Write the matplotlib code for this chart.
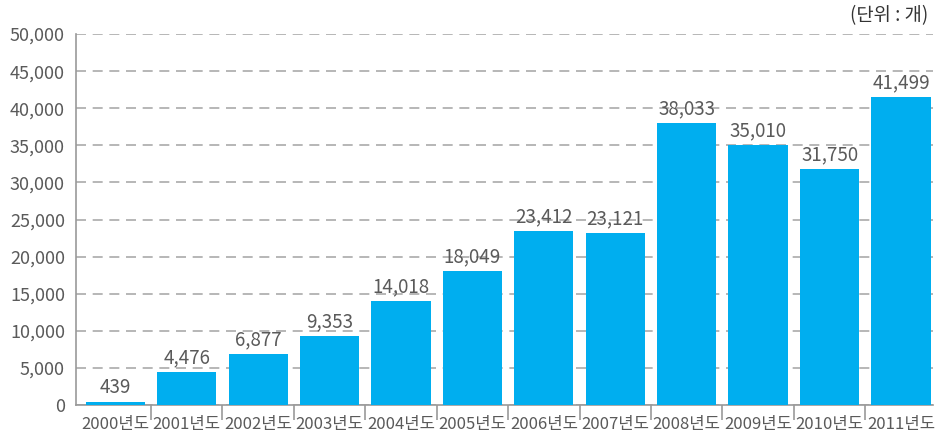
import matplotlib
matplotlib.use("Agg")
from matplotlib import pyplot as plt
from matplotlib.ticker import FixedLocator, FuncFormatter

plt.rcParams['font.family'] = ['Noto Sans CJK KR', 'DejaVu Sans']

years = ["2000년도", "2001년도", "2002년도", "2003년도", "2004년도", "2005년도",
         "2006년도", "2007년도", "2008년도", "2009년도", "2010년도", "2011년도"]
counts = [439, 4476, 6877, 9353, 14018, 18049, 23412, 23121, 38033, 35010, 31750, 41499]

gray = "#5a5a5a"
blue = "#00AEEF"

fig = plt.figure(figsize=(9.35, 4.42), dpi=100)
ax = fig.add_axes([0.0813, 0.0837, 0.9167, 0.8393])

x = list(range(len(years)))
ax.bar(x, counts, width=0.83, color=blue, zorder=3)

for xi, v in zip(x, counts):
    ax.text(xi, v + 500, f"{v:,}", ha="center", va="bottom", fontsize=13.5,
            color=gray, fontweight="light", zorder=4)

ax.set_xlim(-0.55, len(years) - 0.55)
ax.set_ylim(0, 50000)
ax.set_yticks(range(0, 50001, 5000))
ax.yaxis.set_major_formatter(FuncFormatter(lambda v, p: f"{int(v):,}"))
ax.tick_params(axis="y", length=0, pad=8, labelsize=13, labelcolor=gray)

# ticks between categories, labels at centers
ax.xaxis.set_major_locator(FixedLocator([i + 0.5 for i in x[:-1]]))
ax.xaxis.set_minor_locator(FixedLocator(x))
ax.set_xticklabels([], minor=False)
ax.set_xticklabels(years, minor=True)
ax.tick_params(axis="x", which="major", length=11, color="#999999", width=1.2)
ax.tick_params(axis="x", which="minor", length=0, pad=8, labelsize=12, labelcolor=gray)

ax.grid(axis="y", color="#aaaaaa", linestyle=(0, (6, 4)), linewidth=1.2, zorder=0)
for s in ["top", "right"]:
    ax.spines[s].set_visible(False)
for s in ["left", "bottom"]:
    ax.spines[s].set_color("#999999")
    ax.spines[s].set_linewidth(1.2)

fig.text(0.993, 0.965, "(단위 : 개)", ha="right", va="center", fontsize=13.5, color="#333333")

plt.savefig("out.png")
